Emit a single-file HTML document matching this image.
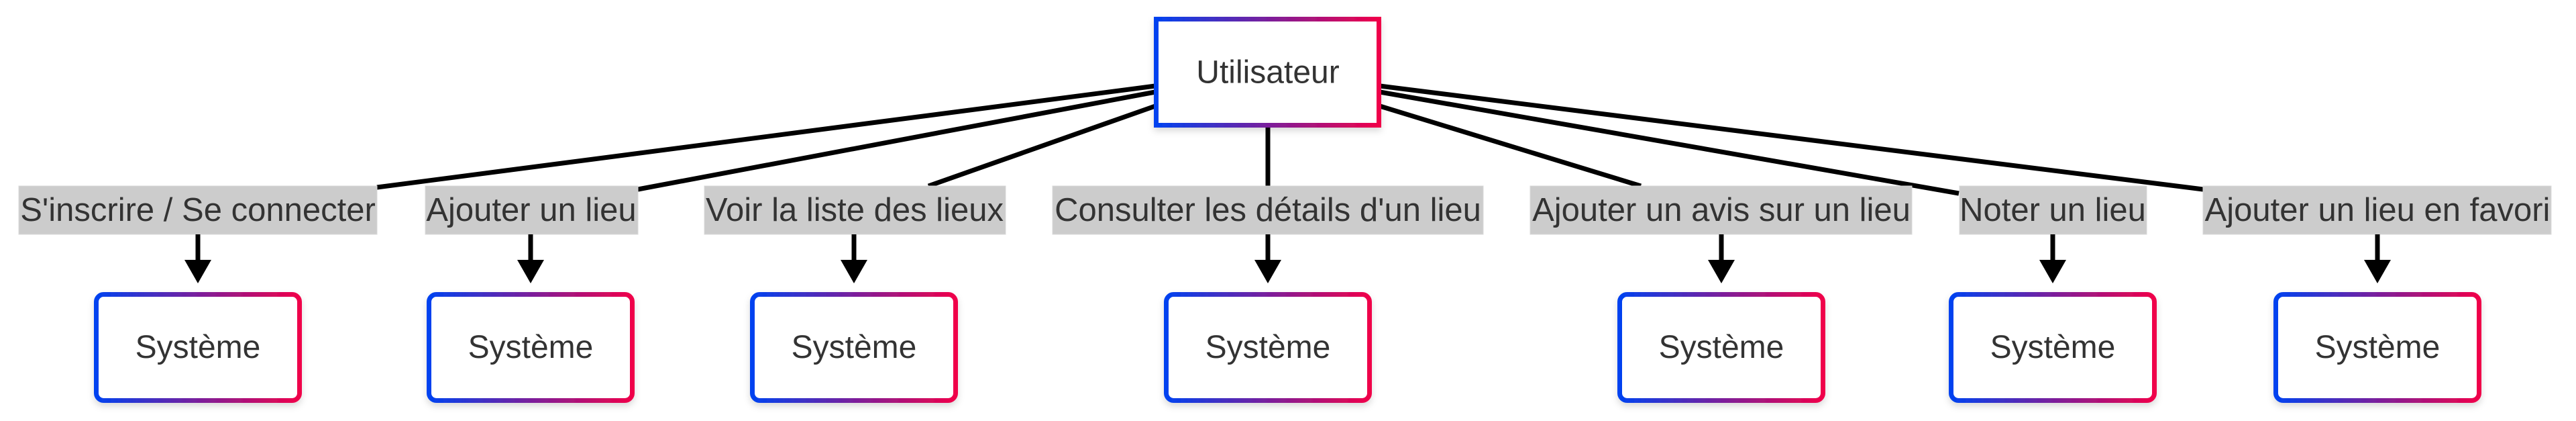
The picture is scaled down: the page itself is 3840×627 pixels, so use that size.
<!DOCTYPE html>
<html><head><meta charset="utf-8"><style>
html,body{margin:0;padding:0;background:#fff;}
svg{display:block;}
text{font-family:"Liberation Sans",Arial,sans-serif;fill:#333;}
</style></head><body>
<svg width="3840" height="627" viewBox="0 0 3840 627" xmlns="http://www.w3.org/2000/svg">
<defs>
<linearGradient id="g" x1="0" y1="0" x2="1" y2="0">
<stop offset="0" stop-color="#0042f0"/><stop offset="0.5" stop-color="#7a1f9c"/><stop offset="1" stop-color="#f0004a"/>
</linearGradient>
<filter id="sh" x="-10%" y="-10%" width="120%" height="130%">
<feDropShadow dx="0" dy="5" stdDeviation="5" flood-color="#000" flood-opacity="0.15"/>
</filter>
</defs>
<g stroke="#000" stroke-width="7" fill="none">
<line x1="1722" y1="128" x2="562" y2="279"/>
<line x1="1722" y1="137" x2="951" y2="282"/>
<line x1="1722" y1="158" x2="1384" y2="277"/>
<line x1="1890" y1="190" x2="1890" y2="277"/>
<line x1="2057" y1="158" x2="2446" y2="277"/>
<line x1="2057" y1="137" x2="2920" y2="288"/>
<line x1="2057" y1="128" x2="3284" y2="282"/>
</g>
<rect x="1723.5" y="28.5" width="332" height="158" fill="#fff" stroke="url(#g)" stroke-width="7" filter="url(#sh)"/>
<text x="1890" y="108" font-size="48" text-anchor="middle" dominant-baseline="central">Utilisateur</text>

<g fill="#cccccc" stroke="#d8d8d8" stroke-width="1">
<rect x="28" y="277" width="534" height="72"/>
<rect x="634" y="277" width="317" height="72"/>
<rect x="1050" y="277" width="449" height="72"/>
<rect x="1569" y="277" width="642" height="72"/>
<rect x="2281" y="277" width="569" height="72"/>
<rect x="2921" y="277" width="279" height="72"/>
<rect x="3284" y="277" width="519" height="72"/>
</g>
<g font-size="49" text-anchor="middle">
<text x="295" y="329">S'inscrire / Se connecter</text>
<text x="792" y="329">Ajouter un lieu</text>
<text x="1274" y="329">Voir la liste des lieux</text>
<text x="1890" y="329">Consulter les détails d'un lieu</text>
<text x="2566" y="329">Ajouter un avis sur un lieu</text>
<text x="3060" y="329">Noter un lieu</text>
<text x="3544" y="329">Ajouter un lieu en favori</text>
</g>

<g stroke="#000" stroke-width="7">
<line x1="295" y1="349" x2="295" y2="390"/>
<line x1="791" y1="349" x2="791" y2="390"/>
<line x1="1273" y1="349" x2="1273" y2="390"/>
<line x1="1890" y1="349" x2="1890" y2="390"/>
<line x1="2566" y1="349" x2="2566" y2="390"/>
<line x1="3060" y1="349" x2="3060" y2="390"/>
<line x1="3544" y1="349" x2="3544" y2="390"/>
</g>
<g fill="#000">
<polygon points="275,387 315,387 295,422"/>
<polygon points="771,387 811,387 791,422"/>
<polygon points="1253,387 1293,387 1273,422"/>
<polygon points="1870,387 1910,387 1890,422"/>
<polygon points="2546,387 2586,387 2566,422"/>
<polygon points="3040,387 3080,387 3060,422"/>
<polygon points="3524,387 3564,387 3544,422"/>
</g>

<g fill="#fff" stroke="url(#g)" stroke-width="7" filter="url(#sh)">
<rect x="143.5" y="438.5" width="303" height="158" rx="11"/>
<rect x="639.5" y="438.5" width="303" height="158" rx="11"/>
<rect x="1121.5" y="438.5" width="303" height="158" rx="11"/>
<rect x="1738.5" y="438.5" width="303" height="158" rx="11"/>
<rect x="2414.5" y="438.5" width="303" height="158" rx="11"/>
<rect x="2908.5" y="438.5" width="303" height="158" rx="11"/>
<rect x="3392.5" y="438.5" width="303" height="158" rx="11"/>
</g>
<g font-size="48" text-anchor="middle">
<text x="295" y="533">Système</text>
<text x="791" y="533">Système</text>
<text x="1273" y="533">Système</text>
<text x="1890" y="533">Système</text>
<text x="2566" y="533">Système</text>
<text x="3060" y="533">Système</text>
<text x="3544" y="533">Système</text>
</g>
</svg>
</body></html>
